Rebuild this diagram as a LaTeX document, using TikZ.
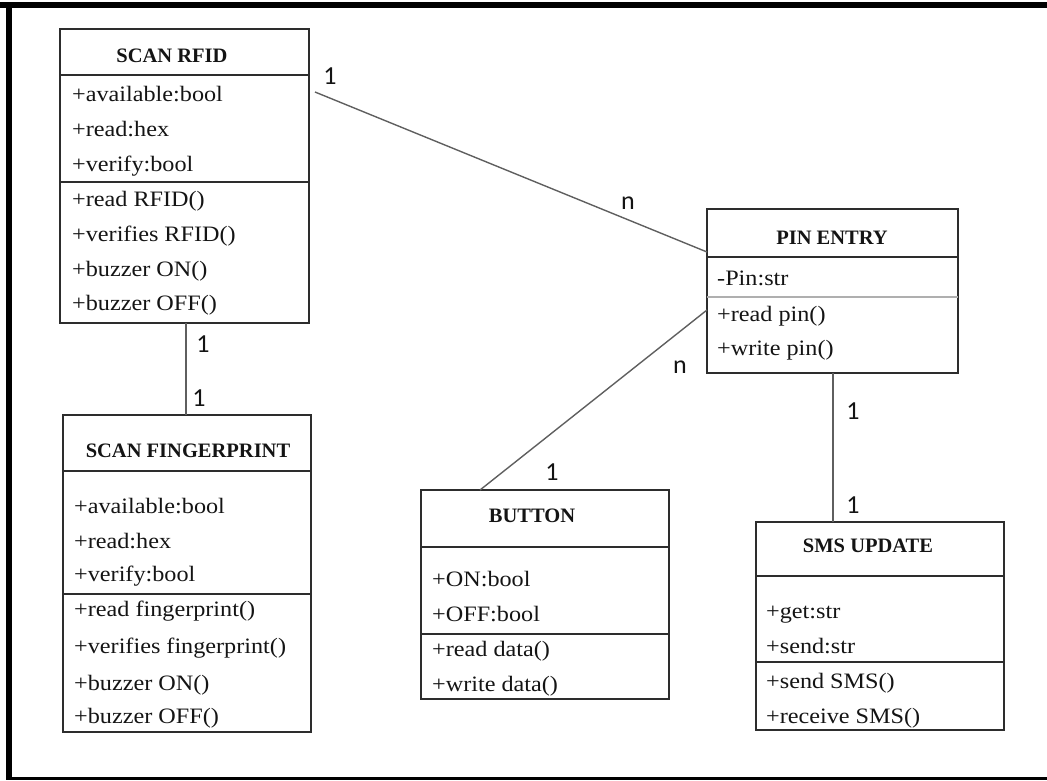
\documentclass[tikz,border=0pt]{standalone}
\usepackage{fontspec}
\setmainfont{Liberation Serif}
\newfontfamily\rowfont[FakeStretch=1.1]{Liberation Serif}
\newfontfamily\lblfont{Carlito}
\usetikzlibrary{calc}
\definecolor{boxc}{RGB}{45,45,45}
\definecolor{linec}{RGB}{95,95,95}
\definecolor{txtc}{RGB}{20,20,20}
\definecolor{lsep}{RGB}{175,175,175}
\begin{document}
\begin{tikzpicture}[x=1pt,y=-1pt,
  umlbox/.style={draw=boxc, line width=1.8pt, inner sep=0pt, outer sep=0pt, anchor=north west},
  sepline/.style={draw=boxc, line width=1.6pt},
  lightsep/.style={draw=lsep, line width=1.6pt},
  row/.style={anchor=base west, inner sep=0pt, text=txtc, font=\rowfont\fontsize{22}{24}\selectfont},
  title/.style={anchor=base, inner sep=0pt, text=txtc, font=\bfseries\fontsize{20.5}{24}\selectfont},
  conn/.style={draw=linec, line width=1.4pt},
  mult/.style={inner sep=0pt, text=txtc, font=\lblfont\fontsize{26}{28}\selectfont}]
\useasboundingbox (0,0) rectangle (1047,780);
% outer frame
\fill[black] (0,2) rectangle (1047,8);
\fill[black] (6,2) rectangle (12,780);
\fill[black] (6,777) rectangle (1047,780);

% SCAN RFID
\node[umlbox, minimum width=249pt, minimum height=294pt] (rfid) at (60,29) {};
\draw[sepline] (60,75) -- (309,75);
\draw[sepline] (60,182) -- (309,182);
\node[title] (rfidT) at (172,62) {SCAN RFID};
\node[row] (r1) at (72,101) {+available:bool};
\node[row] (r2) at (72,136) {+read:hex};
\node[row] (r3) at (72,171) {+verify:bool};
\node[row] (r4) at (72,206) {+read RFID()};
\node[row] (r5) at (72,241) {+verifies RFID()};
\node[row] (r6) at (72,276) {+buzzer ON()};
\node[row] (r7) at (72,310) {+buzzer OFF()};

% SCAN FINGERPRINT
\node[umlbox, minimum width=248pt, minimum height=317pt] (fp) at (63,415) {};
\draw[sepline] (63,471) -- (311,471);
\draw[sepline] (63,594) -- (311,594);
\node[title] (fpT) at (188,457) {SCAN FINGERPRINT};
\node[row] (f1) at (74,513) {+available:bool};
\node[row] (f2) at (74,548) {+read:hex};
\node[row] (f3) at (74,581) {+verify:bool};
\node[row] (f4) at (74,616) {+read fingerprint()};
\node[row] (f5) at (74,653) {+verifies fingerprint()};
\node[row] (f6) at (74,690) {+buzzer ON()};
\node[row] (f7) at (74,723) {+buzzer OFF()};

% PIN ENTRY
\node[umlbox, minimum width=251pt, minimum height=164pt] (pin) at (707,209) {};
\draw[sepline] (707,257) -- (958,257);
\draw[lightsep] (707,297) -- (958,297);
\node[title] (pinT) at (832,244) {PIN ENTRY};
\node[row] (p1) at (717,285) {-Pin:str};
\node[row] (p2) at (717,321) {+read pin()};
\node[row] (p3) at (717,355) {+write pin()};

% BUTTON
\node[umlbox, minimum width=248pt, minimum height=209pt] (button) at (421,490) {};
\draw[sepline] (421,547) -- (669,547);
\draw[sepline] (421,634) -- (669,634);
\node[title] (buttonT) at (532,522) {BUTTON};
\node[row] (b1) at (432,586) {+ON:bool};
\node[row] (b2) at (432,621) {+OFF:bool};
\node[row] (b3) at (432,656) {+read data()};
\node[row] (b4) at (432,691) {+write data()};

% SMS UPDATE
\node[umlbox, minimum width=248pt, minimum height=208pt] (sms) at (756,522) {};
\draw[sepline] (756,576) -- (1004,576);
\draw[sepline] (756,662) -- (1004,662);
\node[title] (smsT) at (868,552) {SMS UPDATE};
\node[row] (s1) at (766,618) {+get:str};
\node[row] (s2) at (766,653) {+send:str};
\node[row] (s3) at (766,688) {+send SMS()};
\node[row] (s4) at (766,723) {+receive SMS()};

% connectors
\draw[conn] ([shift={(6pt,-63pt)}]rfid.north east) -- ([yshift=-43pt]pin.north west);
\draw[conn] ([yshift=-101pt]pin.north west) -- ([xshift=59pt]button.north west);
\draw[conn] ([xshift=126pt]pin.south west) -- ([xshift=77pt]sms.north west);
\draw[conn] ([xshift=126pt]rfid.south west) -- ([xshift=123pt]fp.north west);

% multiplicities
\node[mult] (m1) at (330,76) {1};
\node[mult] (m2) at (628,203) {n};
\node[mult] (m3) at (680,367) {n};
\node[mult] (m4) at (552,472) {1};
\node[mult] (m5) at (853,411) {1};
\node[mult] (m6) at (853,505) {1};
\node[mult] (m7) at (203,344) {1};
\node[mult] (m8) at (199,398) {1};
\end{tikzpicture}
\end{document}
